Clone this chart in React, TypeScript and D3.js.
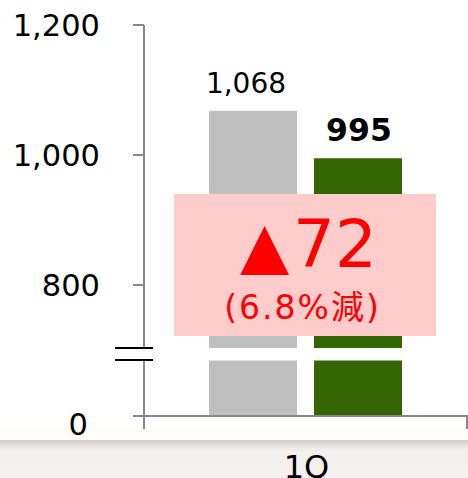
import React from "react";
import * as d3 from "d3";

const categories = ["1Q"];
const seriesNames = ["prev", "curr"];
const seriesValues = [1068, 995];
const valueLabels = ["1,068", "995"];
const seriesColors = ["#BFBFBF", "#336600"];
const tickValues = [0, 800, 1000, 1200];
const tickLabels = ["0", "800", "1,000", "1,200"];
const diffText = "▲72";
const pctText = "(6.8%減)";
const breakValue = 700;

const W = 468;
const H = 478;
const FONT = "'DejaVu Sans', Verdana, 'Noto Sans CJK JP', sans-serif";

export default function App() {
  const y = d3.scaleLinear().domain([0, breakValue, 1200]).range([416, 350, 25]);
  const x0 = d3.scaleBand().domain(categories).range([144, 467]);
  const x1 = d3
    .scaleBand()
    .domain(seriesNames)
    .range([0, x0.bandwidth()])
    .paddingInner(0.162)
    .paddingOuter(0.619);
  const axisX = 144;
  const cx = (x0(categories[0]) as number) + x0.bandwidth() / 2;

  return (
    <div style={{ position: "fixed", left: 0, top: 0, width: W, height: H }}>
      <svg width={W} height={H} style={{ display: "block" }} fontFamily={FONT}>
        <defs>
          <linearGradient id="band" x1="0" y1="0" x2="0" y2="1">
            <stop offset="0" stopColor="#cfccc9" />
            <stop offset="0.18" stopColor="#ebe8e5" />
            <stop offset="0.3" stopColor="#f2efec" />
            <stop offset="1" stopColor="#f3f0ed" />
          </linearGradient>
        </defs>
        <rect x={0} y={0} width={W} height={H} fill="#fff" />
        <rect x={0} y={428} width={W} height={12} fill="#fffcf9" />
        {/* bars */}
        {categories.map((c) =>
          seriesNames.map((s, i) => (
            <rect
              key={c + s}
              x={(x0(c) as number) + (x1(s) as number)}
              y={y(seriesValues[i])}
              width={x1.bandwidth()}
              height={y(0) - y(seriesValues[i])}
              fill={seriesColors[i]}
            />
          ))
        )}
        {/* break gap */}
        <rect x={110} y={348} width={W - 110} height={12.5} fill="#fff" />
        {/* y axis */}
        <line x1={axisX} x2={axisX} y1={y(1200)} y2={348} stroke="#888" strokeWidth={2} />
        <line x1={axisX} x2={axisX} y1={360.5} y2={429} stroke="#888" strokeWidth={2} />
        {tickValues.map((v, i) => (
          <g key={v}>
            <line x1={133} x2={axisX} y1={y(v)} y2={y(v)} stroke="#888" strokeWidth={2} />
            <text
              x={v === 0 ? 88 : 100}
              y={y(v) + (v === 0 ? 8 : 0)}
              dy="0.36em"
              textAnchor="end"
              fontSize={30.5}
              fill="#000"
            >
              {tickLabels[i]}
            </text>
          </g>
        ))}
        {/* break marks */}
        <line x1={115} x2={153} y1={348} y2={348} stroke="#000" strokeWidth={2.2} />
        <line x1={115} x2={153} y1={360} y2={360} stroke="#000" strokeWidth={2.2} />
        {/* x axis */}
        <line x1={133} x2={W} y1={y(0)} y2={y(0)} stroke="#888" strokeWidth={2} />
        <line x1={467} x2={467} y1={y(0)} y2={429} stroke="#888" strokeWidth={2} />
        {/* value labels */}
        {seriesNames.map((s, i) => (
          <text
            key={s}
            x={(x0(categories[0]) as number) + (x1(s) as number) + x1.bandwidth() / 2 + (i === 0 ? -7 : 1)}
            y={y(seriesValues[i]) - (i === 0 ? 18 : 17)}
            textAnchor="middle"
            fontSize={i === 0 ? 28 : 31.5}
            fontWeight={i === 0 ? "normal" : "bold"}
            fill="#000"
          >
            {valueLabels[i]}
          </text>
        ))}
        {/* diff box */}
        <rect x={174} y={194} width={262} height={142} fill="#FFCCCC" />
        <text x={cx + 3} y={267} textAnchor="middle" fontSize={66} fill="#FF0000">
          <tspan fontSize={64}>{diffText.slice(0, 1)}</tspan>
          <tspan dx={4}>{diffText.slice(1)}</tspan>
        </text>
        <text x={cx - 3} y={319} textAnchor="middle" fontSize={33} letterSpacing={2} fill="#FF0000">
          {pctText}
        </text>
        {/* bottom band */}
        <rect x={0} y={440} width={W} height={H - 440} fill="url(#band)" />
        <text x={cx + 1} y={478} textAnchor="middle" fontSize={32} fill="#000">
          {categories[0]}
        </text>
      </svg>
    </div>
  );
}
